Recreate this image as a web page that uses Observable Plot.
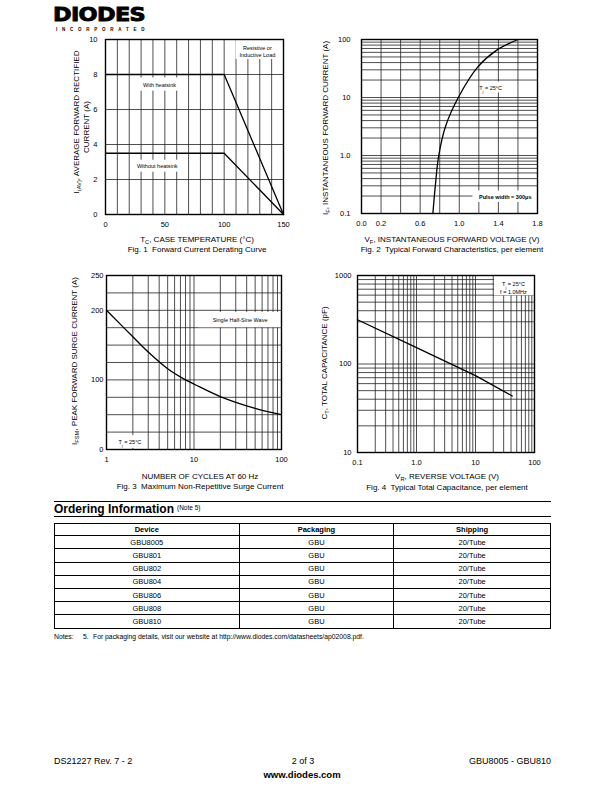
<!DOCTYPE html>
<html><head><meta charset="utf-8">
<script src="https://cdn.jsdelivr.net/npm/d3@7"></script>
<script src="https://cdn.jsdelivr.net/npm/@observablehq/plot@0.6"></script>
<style>
html,body{margin:0;padding:0;background:#fff;}
#page{position:relative;width:612px;height:792px;overflow:hidden;font-family:"Liberation Sans",Arial,sans-serif;color:#000;}
.abs{position:absolute;white-space:nowrap;line-height:1;}
.ctr{transform:translate(-50%,-50%);}
.rot{transform:translate(-50%,-50%) rotate(-90deg);}
.t8{font-size:8px;}
sub{font-size:72%;vertical-align:-0.3em;line-height:0;}
table.ord{position:absolute;left:54px;top:523px;width:497px;border-collapse:collapse;font-size:7.5px;border:1.5px solid #000;}
table.ord td,table.ord th{border:1px solid #000;text-align:center;padding:0;height:12.2px;}
table.ord th{font-weight:bold;height:11.3px;}
</style>
</head><body><div id="page"></div>
<script>
// ---------- data ----------
const fig1TempC = [0, 100, 150];
const fig1WithHeatsinkA = [8, 8, 0];
const fig1WithoutHeatsinkA = [3.5, 3.5, 0];
const fig1XTicks = [0, 50, 100, 150];
const fig1YTicks = [0, 2, 4, 6, 8, 10];

const fig2VoltageV = [0.73, 0.755, 0.79, 0.86, 0.99, 1.19, 1.38, 1.6];
const fig2CurrentA = [0.1, 0.3, 1, 3.2, 10, 33.7, 65, 100];
const fig2XTicks = [0, 0.2, 0.6, 1.0, 1.4, 1.8];
const fig2YTicks = [0.1, 1, 10, 100];
const fig2YTickLabels = ["0.1", "1.0", "10", "100"];

const fig3Cycles = [1, 2, 3, 5, 8, 10, 20, 50, 100];
const fig3SurgeA = [200, 162, 140, 116, 100, 94, 76, 59, 50];
const fig3XTicks = [1, 10, 100];
const fig3YTicks = [0, 100, 200, 250];

const fig4VoltageV = [0.1, 1, 10, 42];
const fig4CapacitancePF = [316, 153, 74, 43.5];
const fig4XTicks = [0.1, 1, 10, 100];
const fig4XTickLabels = ["0.1", "1.0", "10", "100"];
const fig4YTicks = [10, 100, 1000];

const devices = ["GBU8005", "GBU801", "GBU802", "GBU804", "GBU806", "GBU808", "GBU810"];
const packaging = ["GBU", "GBU", "GBU", "GBU", "GBU", "GBU", "GBU"];
const shipping = ["20/Tube", "20/Tube", "20/Tube", "20/Tube", "20/Tube", "20/Tube", "20/Tube"];
const tableHeaders = ["Device", "Packaging", "Shipping"];

// ---------- helpers ----------
const FONT = '"Liberation Sans", Arial, sans-serif';
const page = document.getElementById("page");
const NS = "http://www.w3.org/2000/svg";
const GRID = {stroke: "#222", strokeWidth: 0.8};

function logGrid(lo, hi) {
  const out = [];
  for (let d = lo; d < hi * 0.999; d *= 10) for (let k = 1; k < 10; k++) out.push(d * k);
  out.push(hi);
  return out;
}
function applySubs(root) {
  root.querySelectorAll("text, tspan").forEach(el => {
    if (el.children.length) return;
    const s = el.textContent;
    if (!s.includes("_{")) return;
    el.textContent = "";
    const re = /_\{([^}]*)\}/g; let last = 0, m;
    while ((m = re.exec(s))) {
      if (m.index > last) el.appendChild(document.createElementNS(NS, "tspan")).textContent = s.slice(last, m.index);
      const t = el.appendChild(document.createElementNS(NS, "tspan"));
      t.setAttribute("baseline-shift", "sub"); t.setAttribute("font-size", "75%");
      t.textContent = m[1];
      last = re.lastIndex;
    }
    if (last < s.length) el.appendChild(document.createElementNS(NS, "tspan")).textContent = s.slice(last);
  });
}
function chart(o) {
  const svg = Plot.plot({
    width: o.width, height: o.height,
    marginLeft: o.ml, marginRight: o.mr, marginTop: o.mt, marginBottom: o.mb,
    style: {fontFamily: FONT, fontSize: "7.5px", color: "#000", background: "transparent", overflow: "visible"},
    x: Object.assign({tickSize: 0, tickPadding: 7, label: null}, o.x),
    y: Object.assign({tickSize: 0, label: null}, o.y),
    marks: o.marks
  });
  svg.style.position = "absolute";
  svg.style.left = o.left + "px";
  svg.style.top = o.top + "px";
  applySubs(svg);
  page.appendChild(svg);
}
function html(str, x, y, cls, extra) {
  const d = document.createElement("div");
  d.className = "abs " + (cls || "");
  d.style.left = x + "px"; d.style.top = y + "px";
  if (extra) Object.assign(d.style, extra);
  d.innerHTML = str;
  page.appendChild(d);
  return d;
}
const box = (x1, x2, y1, y2) => Plot.rect([0], {x1: () => x1, x2: () => x2, y1: () => y1, y2: () => y2, fill: "white"});
const label = (x, y, t, extra) => Plot.text([0], Object.assign({x: () => x, y: () => y, text: () => t, fontSize: 5.5, fill: "#000", lineHeight: 1.2}, extra || {}));

// ---------- Fig 1 ----------
chart({
  left: 55, top: 30, width: 235, height: 205, ml: 50, mr: 7, mt: 9, mb: 21,
  x: {domain: [0, 150], ticks: fig1XTicks},
  y: {domain: [0, 10], ticks: fig1YTicks, tickPadding: 8},
  marks: [
    Plot.ruleX(d3.range(0, 151, 10), GRID),
    Plot.ruleY(d3.range(0, 11, 2), GRID),
    box(110, 150, 8.86, 10), box(28, 64, 7.05, 7.8), box(23, 64, 2.42, 3.1),
    Plot.line(fig1TempC.map((t, i) => ({t, a: fig1WithHeatsinkA[i]})), {x: "t", y: "a", stroke: "#000", strokeWidth: 1.3}),
    Plot.line(fig1TempC.map((t, i) => ({t, a: fig1WithoutHeatsinkA[i]})), {x: "t", y: "a", stroke: "#000", strokeWidth: 1.3}),
    Plot.frame({stroke: "#000", strokeWidth: 1.4}),
    label(128, 9.33, "Resistive or\nInductive Load"),
    label(45.5, 7.43, "With heatsink"),
    label(43.6, 2.76, "Without heatsink")
  ]
});
html("I<sub>(AV)</sub>, AVERAGE FORWARD RECTIFIED", 77, 122, "rot t8");
html("CURRENT (A)", 87, 127, "rot t8");
html("T<sub>C</sub>, CASE TEMPERATURE (°C)", 197, 240, "ctr t8");
html("Fig. 1&nbsp; Forward Current Derating Curve", 197, 250, "ctr t8");

// ---------- Fig 2 ----------
chart({
  left: 310, top: 30, width: 235, height: 205, ml: 51, mr: 8, mt: 9, mb: 22,
  x: {domain: [0, 1.8], ticks: fig2XTicks, tickFormat: d => d.toFixed(1)},
  y: {type: "log", domain: [0.1, 100], ticks: fig2YTicks, tickFormat: d => fig2YTickLabels[fig2YTicks.indexOf(d)], tickPadding: 11},
  marks: [
    Plot.ruleX(d3.range(0, 10).map(i => i * 0.2), GRID),
    Plot.ruleY(logGrid(0.1, 100), GRID),
    box(1.22, 1.42, 12, 18.5), box(1.14, 1.8, 0.155, 0.245),
    Plot.line(fig2VoltageV.map((v, i) => ({v, a: fig2CurrentA[i]})), {x: "v", y: "a", curve: "catmull-rom", stroke: "#000", strokeWidth: 1.3}),
    Plot.frame({stroke: "#000", strokeWidth: 1.4}),
    label(1.32, 14.8, "T_{j} = 25°C"),
    label(1.47, 0.19, "Pulse width = 300μs", {fontWeight: 600})
  ]
});
html("I<sub>F</sub>, INSTANTANEOUS FORWARD CURRENT (A)", 326, 128, "rot t8");
html("V<sub>F</sub>, INSTANTANEOUS FORWARD VOLTAGE (V)", 452, 240, "ctr t8");
html("Fig. 2&nbsp; Typical Forward Characteristics, per element", 452, 250, "ctr t8");

// ---------- Fig 3 ----------
chart({
  left: 55, top: 265, width: 235, height: 205, ml: 51, mr: 9, mt: 10, mb: 21,
  x: {type: "log", domain: [1, 100], ticks: fig3XTicks, tickFormat: d => String(d)},
  y: {domain: [0, 250], ticks: fig3YTicks, tickPadding: 3},
  marks: [
    Plot.ruleX(logGrid(1, 100), GRID),
    Plot.ruleY(d3.range(0, 251, 25), GRID),
    box(11.3, 100, 175, 197), box(1.15, 2.9, 1.5, 20),
    Plot.line(fig3Cycles.map((n, i) => ({n, a: fig3SurgeA[i]})), {x: "n", y: "a", curve: "catmull-rom", stroke: "#000", strokeWidth: 1.3}),
    Plot.frame({stroke: "#000", strokeWidth: 1.4}),
    label(33.6, 186, "Single Half-Sine Wave"),
    label(1.85, 11.5, "T_{j} = 25°C")
  ]
});
html("I<sub>FSM</sub>, PEAK FORWARD SURGE CURRENT (A)", 75, 361, "rot t8");
html("NUMBER OF CYCLES AT 60 Hz", 200, 477, "ctr t8");
html("Fig. 3&nbsp; Maximum Non-Repetitive Surge Current", 200, 487, "ctr t8");

// ---------- Fig 4 ----------
chart({
  left: 305, top: 265, width: 240, height: 205, ml: 52, mr: 11, mt: 10, mb: 18,
  x: {type: "log", domain: [0.1, 100], ticks: fig4XTicks, tickFormat: d => fig4XTickLabels[fig4XTicks.indexOf(d)]},
  y: {type: "log", domain: [10, 1000], ticks: fig4YTicks, tickFormat: d => String(d), tickPadding: 6},
  marks: [
    Plot.ruleX(logGrid(0.1, 100), GRID),
    Plot.ruleY(logGrid(10, 1000), GRID),
    box(21, 100, 590, 1000),
    Plot.line(fig4VoltageV.map((v, i) => ({v, c: fig4CapacitancePF[i]})), {x: "v", y: "c", stroke: "#000", strokeWidth: 1.3}),
    Plot.frame({stroke: "#000", strokeWidth: 1.4}),
    label(44, 805, "T_{j} = 25°C"),
    label(44, 648, "f = 1.0MHz")
  ]
});
html("C<sub>T</sub>, TOTAL CAPACITANCE (pF)", 325, 363, "rot t8");
html("V<sub>R</sub>, REVERSE VOLTAGE (V)", 447, 477, "ctr t8");
html("Fig. 4&nbsp; Typical Total Capacitance, per element", 447, 488, "ctr t8");

// ---------- Logo ----------
html("DIODES", 53, 14, "", {fontFamily: '"DejaVu Sans", sans-serif', fontWeight: "900", fontSize: "20px", transform: "translateY(-50%) scaleX(1.12)", transformOrigin: "left center", WebkitTextStroke: "0.9px #000", letterSpacing: "-0.6px"});
html("INCORPORATED", 56, 29.5, "", {fontWeight: "bold", fontSize: "4.5px", letterSpacing: "4.75px", transform: "translateY(-50%)"});

// ---------- Ordering information ----------
const rule = (y, h) => { const d = document.createElement("div"); Object.assign(d.style, {position: "absolute", left: "54px", width: "497px", top: y + "px", height: h + "px", background: "#000"}); page.appendChild(d); };
rule(500.5, 1);
rule(515.5, 1.6);
html("Ordering Information", 54, 508.5, "", {fontWeight: "bold", fontSize: "12px", transform: "translateY(-50%)"});
html("(Note 5)", 177, 508, "", {fontSize: "6.5px", transform: "translateY(-50%)"});

const table = document.createElement("table");
table.className = "ord";
const cg = document.createElement("colgroup");
[185, 155, 157].forEach(w => { const c = document.createElement("col"); c.style.width = w + "px"; cg.appendChild(c); });
table.appendChild(cg);
const hr = table.insertRow();
tableHeaders.forEach(h => { const th = document.createElement("th"); th.textContent = h; hr.appendChild(th); });
devices.forEach((d, i) => {
  const r = table.insertRow();
  [d, packaging[i], shipping[i]].forEach(v => { const c = r.insertCell(); c.textContent = v; });
});
page.appendChild(table);

html("Notes:", 54, 637, "", {fontSize: "6.8px", transform: "translateY(-50%)"});
html("5.", 83, 637, "", {fontSize: "6.8px", transform: "translateY(-50%)"});
html("For packaging details, visit our website at http://www.diodes.com/datasheets/ap02008.pdf.", 93, 637, "", {fontSize: "6.8px", transform: "translateY(-50%)"});

// ---------- Footer ----------
html("DS21227 Rev. 7 - 2", 54, 761, "", {fontSize: "9px", transform: "translateY(-50%)"});
html("2 of 3", 303, 761, "ctr", {fontSize: "9px"});
html("www.diodes.com", 302, 775, "ctr", {fontSize: "9.5px", fontWeight: "bold"});
html("GBU8005 - GBU810", 551, 761, "", {fontSize: "9px", transform: "translate(-100%,-50%)"});
</script>
</body></html>
